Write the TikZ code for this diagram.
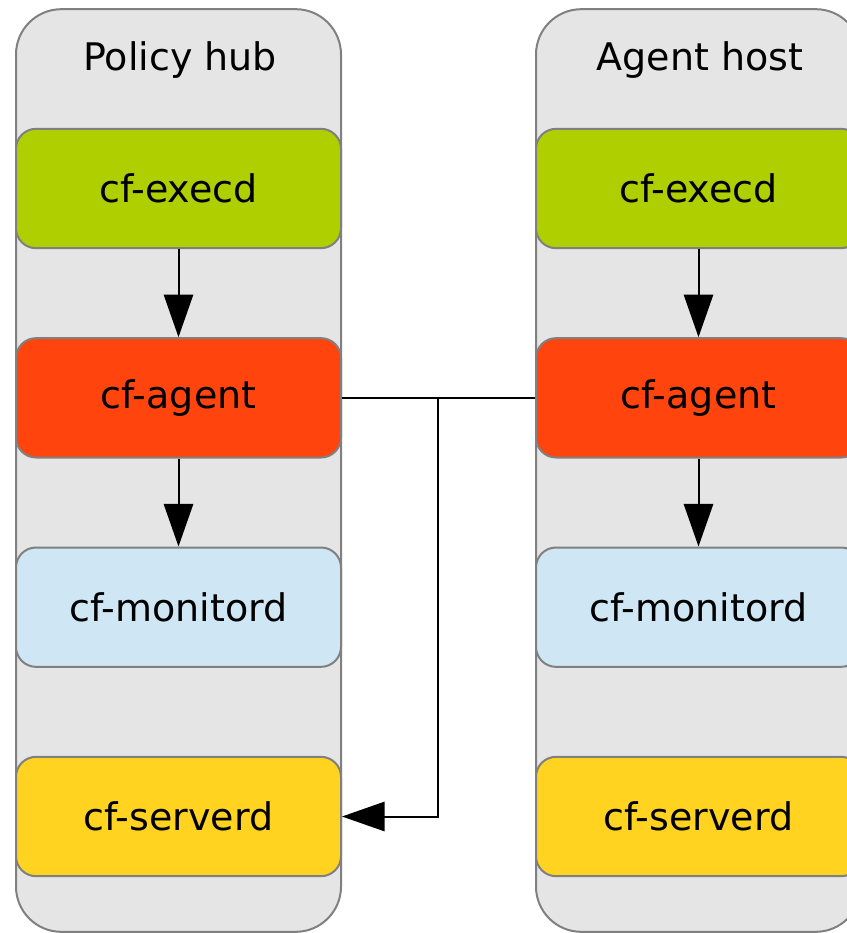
\documentclass[tikz,border=0pt]{standalone}
\usepackage{fontspec}
\setmainfont{DejaVu Sans}
\usepackage{xcolor}
\usetikzlibrary{arrows.meta, positioning}
\definecolor{hostfill}{RGB}{229,229,229}
\definecolor{hostgray}{RGB}{128,128,128}
\definecolor{execgreen}{RGB}{175,207,0}
\definecolor{agentred}{RGB}{255,68,13}
\definecolor{monblue}{RGB}{207,230,244}
\definecolor{servyellow}{RGB}{255,211,32}

\begin{document}
\begin{tikzpicture}[x=0.75pt, y=-0.75pt, node distance=66pt,
    host/.style={draw=hostgray, fill=hostfill, line width=1.5pt, rounded corners=34pt,
        minimum width=243.75pt, minimum height=692pt, inner sep=0pt},
    proc/.style={draw=hostgray, line width=1.5pt, rounded corners=15pt, inner sep=0pt,
        minimum width=243.75pt, minimum height=89.5pt, font=\fontsize{28.5}{34}\selectfont},
    title/.style={font=\fontsize{28.5}{34}\selectfont, inner sep=0pt},
    flow/.style={line width=1.5pt, -{Triangle[length=32pt, width=22pt]}}]
    \useasboundingbox (0,0) rectangle (847,933);
    % the two hosts
    \node[host] (hub) at (178.5,470.5) {};
    \node[host] (host) at (698.5,470.5) {};
    \node[title] (hubtitle) at (180,60) {Policy hub};
    \node[title] (hosttitle) at (700,60) {Agent host};
    % policy hub daemons
    \node[proc, fill=execgreen] (lexec) at (178.5,188.5) {cf-execd};
    \node[proc, fill=agentred, below=of lexec] (lagent) {cf-agent};
    \node[proc, fill=monblue, below=of lagent] (lmon) {cf-monitord};
    \node[proc, fill=servyellow, below=of lmon] (lserv) {cf-serverd};
    % agent host daemons
    \node[proc, fill=execgreen] (rexec) at (698.5,188.5) {cf-execd};
    \node[proc, fill=agentred, below=of rexec] (ragent) {cf-agent};
    \node[proc, fill=monblue, below=of ragent] (rmon) {cf-monitord};
    \node[proc, fill=servyellow, below=of rmon] (rserv) {cf-serverd};
    % edges
    \draw[flow] (lexec) -- (lagent);
    \draw[flow] (lagent) -- (lmon);
    \draw[flow] (rexec) -- (ragent);
    \draw[flow] (ragent) -- (rmon);
    \coordinate (fork) at (438,397.5);
    \draw[line width=1.5pt] (lagent.east) -- (ragent.west);
    \draw[flow] (fork) |- (lserv.east);
\end{tikzpicture}
\end{document}
